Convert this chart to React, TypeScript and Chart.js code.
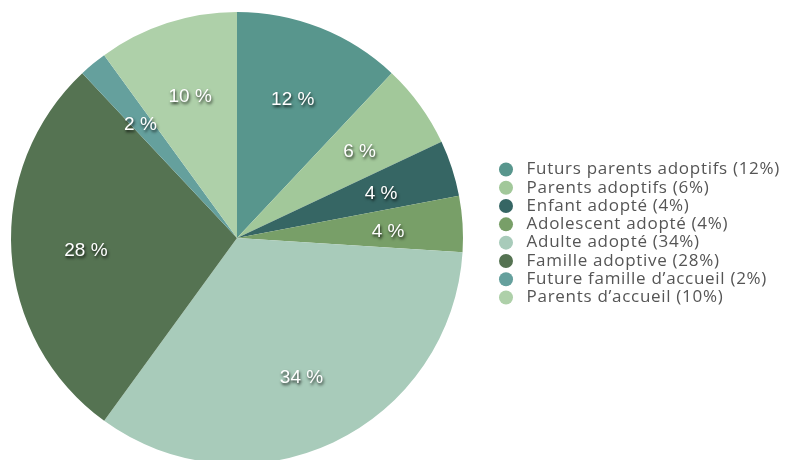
import React, { useEffect, useRef } from "react";
import { Chart, registerables } from "chart.js";

Chart.register(...registerables);

const categories = [
  "Futurs parents adoptifs",
  "Parents adoptifs",
  "Enfant adopté",
  "Adolescent adopté",
  "Adulte adopté",
  "Famille adoptive",
  "Future famille d’accueil",
  "Parents d’accueil",
];
const values = [12, 6, 4, 4, 34, 28, 2, 10];
const colors = [
  "#58968d",
  "#a2c89a",
  "#366664",
  "#789f68",
  "#a8cbba",
  "#557352",
  "#65a09d",
  "#aed0a9",
];

const LEGEND_W = 315;
const LEGEND_DX = 23.7;
const LEGEND_DY = -4.5;

const legendPatch = {
  id: "legendPatch",
  beforeLayout(chart: any) {
    const lg: any = chart.legend;
    if (lg && !lg._patched) {
      lg._patched = true;
      const fit = lg.fit.bind(lg);
      lg.fit = function () {
        fit();
        this.width = LEGEND_W;
      };
      const draw = lg.draw.bind(lg);
      lg.draw = function () {
        const l = this.left, r = this.right, t = this.top, b = this.bottom;
        this.left = l + LEGEND_DX;
        this.right = r + LEGEND_DX;
        this.top = t + LEGEND_DY;
        this.bottom = b + LEGEND_DY;
        const ctx = this.ctx;
        ctx.save();
        try {
          (ctx as any).letterSpacing = "0.7px";
        } catch (e) {}
        draw();
        ctx.restore();
        this.left = l; this.right = r; this.top = t; this.bottom = b;
      };
    }
  },
};

const sliceLabels = {
  id: "sliceLabels",
  afterDatasetsDraw(chart: any) {
    const ctx = chart.ctx;
    const meta = chart.getDatasetMeta(0);
    const data = chart.data.datasets[0].data as number[];
    ctx.save();
    ctx.font = "19px 'Liberation Sans', Arial, sans-serif";
    ctx.textAlign = "center";
    ctx.textBaseline = "middle";
    meta.data.forEach((arc: any, i: number) => {
      const p = arc.getProps(["x", "y", "startAngle", "endAngle", "outerRadius"], true);
      const mid = (p.startAngle + p.endAngle) / 2;
      const r = p.outerRadius * 0.67;
      const x = p.x + Math.cos(mid) * r;
      const y = p.y + Math.sin(mid) * r + 3;
      ctx.shadowColor = "rgba(0,0,0,0.8)";
      ctx.shadowBlur = 3;
      ctx.shadowOffsetX = 1;
      ctx.shadowOffsetY = 2;
      ctx.fillStyle = "#ffffff";
      ctx.fillText(`${data[i]} %`, x, y);
    });
    ctx.restore();
  },
};

export default function App() {
  const ref = useRef<HTMLCanvasElement | null>(null);
  useEffect(() => {
    if (!ref.current) return;
    const chart = new Chart(ref.current, {
      type: "pie",
      data: {
        labels: categories,
        datasets: [
          {
            data: values,
            backgroundColor: colors,
            borderWidth: 0,
          },
        ],
      },
      options: {
        responsive: false,
        animation: false,
        devicePixelRatio: 1,
        layout: { padding: { top: 12, bottom: 4, left: 0, right: 0 } },
        plugins: {
          tooltip: { enabled: false },
          legend: {
            position: "right",
            labels: {
              usePointStyle: false,
              useBorderRadius: true,
              borderRadius: 7,
              boxWidth: 14,
              boxHeight: 14,
              padding: 1.3,
              color: "#555555",
              font: { family: "'Open Sans', sans-serif", size: 17 },
              generateLabels: (c: any) =>
                categories.map((cat, i) => ({
                  text: ` ${cat} (${values[i]}%)`,
                  fillStyle: colors[i],
                  strokeStyle: colors[i],
                  lineWidth: 0,
                  borderRadius: 7,
                  hidden: false,
                  index: i,
                  fontColor: "#555555",
                })),
            },
          },
        },
      },
      plugins: [legendPatch, sliceLabels],
    });
    return () => chart.destroy();
  }, []);
  return (
    <div style={{ position: "absolute", left: 0, top: 0, width: 789, height: 460, overflow: "hidden" }}>
      <canvas ref={ref} width={789} height={468} style={{ display: "block" }} />
    </div>
  );
}
